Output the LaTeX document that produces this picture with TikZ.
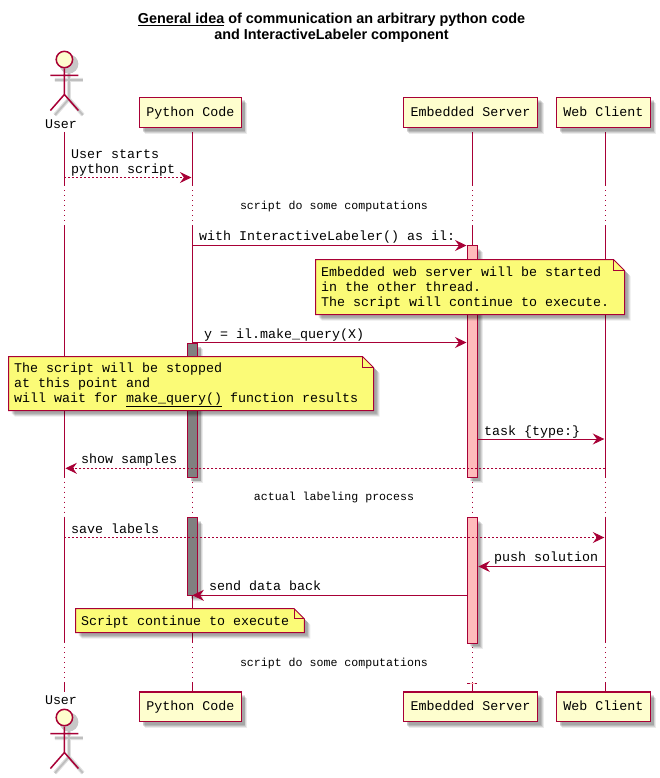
\documentclass[tikz,border=0pt]{standalone}
\usepackage{fontspec}
\setmainfont{Liberation Sans}
\setmonofont{Liberation Mono}
\usetikzlibrary{arrows.meta}
\definecolor{umlline}{HTML}{A80036}
\definecolor{umlbox}{HTML}{FEFECE}
\definecolor{umlnote}{HTML}{FBFB77}
\definecolor{actpink}{HTML}{FFBBBB}
\definecolor{actgray}{HTML}{808080}
% soft shadow: a few stacked, offset, translucent copies of a closed path
\newcommand{\softcopy}[1]{%
  \fill[black,opacity=.08,shift={(6,6)}] #1;
  \fill[black,opacity=.10,shift={(5,5)}] #1;
  \fill[black,opacity=.12,shift={(4,4)}] #1;
  \fill[black,opacity=.10,shift={(3.2,3.2)}] #1;
}
\tikzset{
  partbox/.style={draw=umlline,fill=umlbox,line width=1.5pt,inner sep=0pt,text height=11pt,text depth=3pt,
    font=\ttfamily\fontsize{13.33}{15}\selectfont,text=black},
  lifeline/.style={draw=umlline,line width=1pt},
  lifedots/.style={draw=umlline,line width=1pt,dash pattern=on 1pt off 4pt},
  actbar/.style={draw=umlline,line width=1pt,inner sep=0pt,minimum width=10pt},
  msg/.style={draw=umlline,line width=1pt,-{Stealth[length=11.5pt,width=11pt,inset=4pt,fill=umlline]}},
  msgdash/.style={msg,dash pattern=on 2pt off 2pt},
  lbl/.style={inner sep=0pt,anchor=base west,text=black,font=\ttfamily\fontsize{13.33}{15}\selectfont},
  delaytxt/.style={inner sep=0pt,anchor=base,text=black,font=\ttfamily\fontsize{11.6}{13}\selectfont},
  notebox/.style={draw=umlline,fill=umlnote,line width=1pt,line join=miter},
  titletxt/.style={inner sep=0pt,anchor=base,text=black,font=\bfseries\fontsize{14.4}{16}\selectfont},
  actorfig/.pic={
    \begin{scope}[shift={(4.5,4.5)}]
      \fill[black!22] (0,-35) circle[radius=9.5pt];
      \draw[black!12,line width=4pt] (-14,-19) -- (14,-19) (0,-26) -- (0,0) (-14,16) -- (0,0) -- (14,16);
      \draw[black!25,line width=1.8pt] (-14,-19) -- (14,-19) (0,-26) -- (0,0) (-14,16) -- (0,0) -- (14,16);
    \end{scope}
    \draw[umlline,line width=1.5pt] (-14,-19) -- (14,-19) (0,-26) -- (0,0) (-14,16) -- (0,0) -- (14,16);
    \draw[umlline,fill=umlbox,line width=1.5pt] (0,-35) circle[radius=8.2pt];
  }
}
\begin{document}
\begin{tikzpicture}[x=1pt,y=-1pt]
\useasboundingbox (0,0) rectangle (660,778);
% lifeline points
\foreach \n/\x in {u/64.4,p/192.4,e/472.4,w/605.3}{
  \coordinate (\n0) at (\x,132);
  \coordinate (\n1) at (\x,186);
  \coordinate (\n2) at (\x,225);
  \coordinate (\n3) at (\x,477.5);
  \coordinate (\n4) at (\x,517.5);
  \coordinate (\n5) at (\x,643);
  \coordinate (\n6) at (\x,683);
  \coordinate (\n7) at (\x,692);
  \draw[lifeline] (\n0) -- (\n1) (\n2) -- (\n3) (\n4) -- (\n5) (\n6) -- (\n7);
  \draw[lifedots] (\x,190) -- (\n2) (\x,481.5) -- (\n4) (\x,647) -- (\n6);
}
% participants
\softcopy{(139.4,97.3) rectangle (241.4,127.7)}
\softcopy{(403.3,97.3) rectangle (537.7,127.7)}
\softcopy{(556.3,97.3) rectangle (650.3,127.7)}
\softcopy{(139.4,692) rectangle (241.4,721.7)}
\softcopy{(403.3,692) rectangle (537.7,721.7)}
\softcopy{(556.3,692) rectangle (650.3,721.7)}
\node[partbox,minimum width=102pt,minimum height=30.4pt] (pyT) at (190.4,112.5) {Python Code};
\node[partbox,minimum width=134.4pt,minimum height=30.4pt] (esT) at (470.5,112.5) {Embedded Server};
\node[partbox,minimum width=94pt,minimum height=30.4pt] (wcT) at (603.3,112.5) {Web Client};
\node[partbox,minimum width=102pt,minimum height=29.7pt] (pyB) at (190.4,706.8) {Python Code};
\node[partbox,minimum width=134.4pt,minimum height=29.7pt] (esB) at (470.5,706.8) {Embedded Server};
\node[partbox,minimum width=94pt,minimum height=29.7pt] (wcB) at (603.3,706.8) {Web Client};
% actors
\pic (usrT) at (64.4,94.5) {actorfig};
\pic (usrB) at (64.4,752.5) {actorfig};
\node[lbl,anchor=base] (usrTl) at (61,128.5) {User};
\node[lbl,anchor=base] (usrBl) at (61,704.5) {User};
% activation bars
\softcopy{(467,245.7) rectangle (477,477.3)}
\softcopy{(467,517.7) rectangle (477,643.2)}
\softcopy{(187.4,343.3) rectangle (197.4,477.3)}
\softcopy{(187.4,517.7) rectangle (197.4,595.2)}
\node[actbar,fill=actpink,minimum height=231.5pt] (ea1) at (472,361.5) {};
\node[actbar,fill=actpink,minimum height=125.5pt] (ea2) at (472,580.5) {};
\node[actbar,fill=actgray,minimum height=134pt] (pa1) at (192.4,410.3) {};
\node[actbar,fill=actgray,minimum height=77.5pt] (pa2) at (192.4,556.5) {};
\draw[umlline,line width=1.2pt] (467,683.5) -- (477.4,683.5);
\draw[actpink,line width=1pt] (469.5,683.5) -- (475,683.5);
% messages
\coordinate (m1a) at (64.4,177.5);  \coordinate (m1b) at (191.4,177.5);
\coordinate (m2a) at (192.4,245.5); \coordinate (m2b) at (466.5,245.5);
\coordinate (m3a) at (192.4,342.5); \coordinate (m3b) at (466.5,342.5);
\coordinate (m4a) at (477.4,439);   \coordinate (m4b) at (604.3,439);
\coordinate (m5a) at (605.3,468.3); \coordinate (m5b) at (65.4,468.3);
\coordinate (m6a) at (64.4,537.5);  \coordinate (m6b) at (604.3,537.5);
\coordinate (m7a) at (605.3,566.5); \coordinate (m7b) at (478.4,566.5);
\coordinate (m8a) at (467.4,595.3); \coordinate (m8b) at (192.4,595.3);
\draw[msgdash] (m1a) -- (m1b);
\draw[msg] (m2a) -- (m2b);
\draw[msg] (m3a) -- (m3b);
\draw[msg] (m4a) -- (m4b);
\draw[msgdash] (m5a) -- (m5b);
\draw[msgdash] (m6a) -- (m6b);
\draw[msg] (m7a) -- (m7b);
\draw[msg] (m8a) -- (m8b);
% notes
\softcopy{(315.5,259.5) -- (613.5,259.5) -- (624.5,270.5) -- (624.5,314.5) -- (315.5,314.5) -- cycle}
\draw[notebox] (315.5,259.5) -- (613.5,259.5) -- (624.5,270.5) -- (624.5,314.5) -- (315.5,314.5) -- cycle;
\draw[umlline,line width=1pt] (613.5,259.5) -- (613.5,270.5) -- (624.5,270.5);
\softcopy{(8.5,356.5) -- (362.5,356.5) -- (373.5,367.5) -- (373.5,410.5) -- (8.5,410.5) -- cycle}
\draw[notebox] (8.5,356.5) -- (362.5,356.5) -- (373.5,367.5) -- (373.5,410.5) -- (8.5,410.5) -- cycle;
\draw[umlline,line width=1pt] (362.5,356.5) -- (362.5,367.5) -- (373.5,367.5);
\softcopy{(75.5,608.5) -- (294,608.5) -- (304.3,618.8) -- (304.3,632.5) -- (75.5,632.5) -- cycle}
\draw[notebox] (75.5,608.5) -- (294,608.5) -- (304.3,618.8) -- (304.3,632.5) -- (75.5,632.5) -- cycle;
\draw[umlline,line width=1pt] (294,608.5) -- (294,618.8) -- (304.3,618.8);
% title
\node[titletxt] (t1) at (331.5,23.5) {\underline{General idea} of communication an arbitrary python code};
\node[titletxt] (t2) at (331.5,39.5) {and InteractiveLabeler component};
% message labels
\node[lbl] (l1a) at (71,159) {User starts};
\node[lbl] (l1b) at (71,173) {python script};
\node[lbl] (l2) at (199,240) {with InteractiveLabeler() as il:};
\node[lbl] (l3) at (204,338) {y = il.make\_query(X)};
\node[lbl] (l4) at (484,435) {task \{type:\}};
\node[lbl] (l5) at (81,463) {show samples};
\node[lbl] (l6) at (71,533) {save labels};
\node[lbl] (l7) at (494,561) {push solution};
\node[lbl] (l8) at (209,590) {send data back};
% delays
\node[delaytxt] (d1) at (334,209) {script do some computations};
\node[delaytxt] (d2) at (334,500.5) {actual labeling process};
\node[delaytxt] (d3) at (334,666) {script do some computations};
% note texts
\node[lbl] (n1a) at (321,276) {Embedded web server will be started};
\node[lbl] (n1b) at (321,291) {in the other thread.};
\node[lbl] (n1c) at (321,306) {The script will continue to execute.};
\node[lbl] (n2a) at (14,372.5) {The script will be stopped};
\node[lbl] (n2b) at (14,387.5) {at this point and};
\node[lbl] (n2c) at (14,402.5) {will wait for \underline{make\_query()} function results};
\node[lbl] (n3) at (81,625) {Script continue to execute};
\end{tikzpicture}
\end{document}
